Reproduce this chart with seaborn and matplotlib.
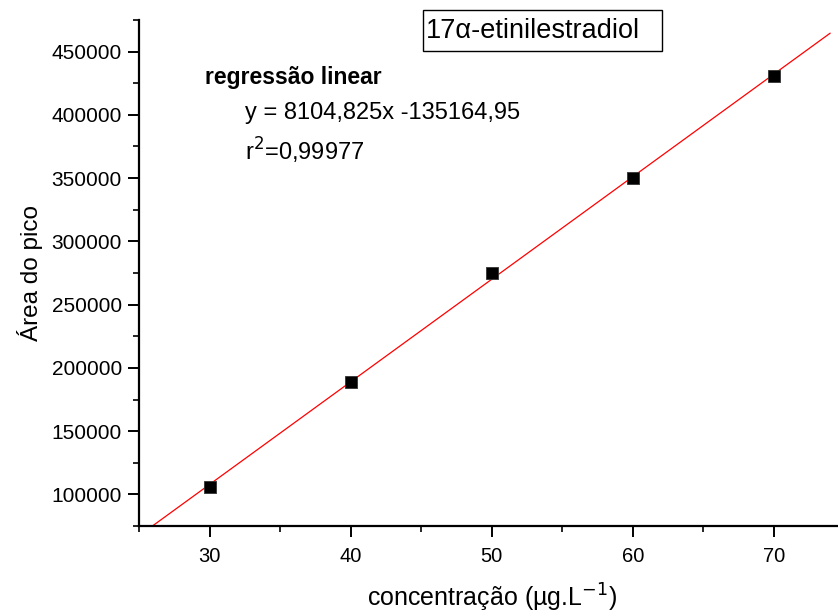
import matplotlib
matplotlib.use("Agg")
import matplotlib.pyplot as plt
import seaborn as sns
import numpy as np
import pandas as pd
from matplotlib.ticker import MultipleLocator
from matplotlib.patches import Rectangle

concentracao = [30, 40, 50, 60, 70]
area = [106000, 189000, 275000, 350000, 431000]
slope = 8104.825
intercept = -135164.95
line_x = [(75000 - intercept) / slope, 74.0]
x_ticks = [30, 40, 50, 60, 70]
y_ticks = [100000, 150000, 200000, 250000, 300000, 350000, 400000, 450000]

sns.set_theme(style="ticks")
plt.rcParams['font.family'] = ['Liberation Sans', 'DejaVu Sans']
plt.rcParams['text.color'] = 'black'
plt.rcParams['axes.labelcolor'] = 'black'
plt.rcParams['xtick.color'] = 'black'
plt.rcParams['ytick.color'] = 'black'

fig = plt.figure(figsize=(8.38, 6.15), dpi=100)
ax = fig.add_axes([0.1662, 0.1447, 0.8413, 0.8228])

df = pd.DataFrame({"x": concentracao, "y": area})
ldf = pd.DataFrame({"x": line_x, "y": [slope * v + intercept for v in line_x]})

sns.lineplot(data=ldf, x="x", y="y", color="red", linewidth=0.9, ax=ax)
sns.scatterplot(data=df, x="x", y="y", marker="s", s=72, color="black",
                edgecolor="#333333", linewidth=0.6, ax=ax, zorder=3)

ax.set_xlim(25, 75)
ax.set_ylim(75000, 475000)
ax.set_xticks(x_ticks)
ax.set_yticks(y_ticks)
ax.xaxis.set_minor_locator(MultipleLocator(5))
ax.yaxis.set_minor_locator(MultipleLocator(25000))
ax.tick_params(which="major", direction="out", length=8, width=1.4)
ax.tick_params(which="minor", direction="out", length=4, width=1.2)
ax.tick_params(axis="x", which="major", pad=7)
ax.tick_params(axis="y", which="major", pad=4.5)
for lab in ax.get_xticklabels():
    lab.set_fontsize(14.5)
for lab in ax.get_yticklabels():
    lab.set_fontsize(15)
for s in ["top", "right"]:
    ax.spines[s].set_visible(False)
for s in ["left", "bottom"]:
    ax.spines[s].set_linewidth(1.6)
    ax.spines[s].set_color("black")

ax.set_xlabel("concentração (µg.L$^{-1}$)", fontsize=18)
ax.set_ylabel("Área do pico", fontsize=17.5)
ax.xaxis.set_label_coords(0.50, -0.142)
ax.xaxis.label.set_va("center")
ax.yaxis.set_label_coords(-0.155, 0.5)
ax.yaxis.label.set_va("center")

ax.text(0.0937, 0.887, "regressão linear", transform=ax.transAxes, fontsize=16.5,
        fontweight="bold", va="center", ha="left")
ax.text(0.1505, 0.8165, "y = 8104,825x -135164,95", transform=ax.transAxes, fontsize=17,
        va="center", ha="left")
ax.text(0.1505, 0.741, "r$^2$=0,99977", transform=ax.transAxes, fontsize=17,
        va="center", ha="left")
ax.add_patch(Rectangle((0.4024, 0.9387), 0.7414 - 0.4024, 1.0198 - 0.9387,
                       transform=ax.transAxes, facecolor="white", edgecolor="black",
                       linewidth=1, clip_on=False, zorder=4))
ax.text(0.407, 0.979, "17α-etinilestradiol", transform=ax.transAxes, fontsize=19.5,
        va="center", ha="left", zorder=5)

fig.savefig("out.png", dpi=100)
